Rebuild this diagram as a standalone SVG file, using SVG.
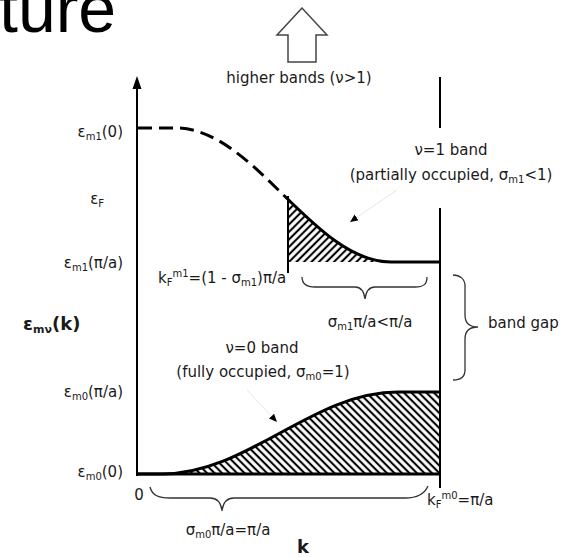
<svg xmlns="http://www.w3.org/2000/svg" width="585" height="557" viewBox="0 0 585 557">
<style>
.t{font-family:"DejaVu Sans",sans-serif;font-size:15px;fill:#1a1a1a}
.b{font-weight:bold;font-size:18px}
.s{font-size:10px}
.ln{stroke:#000;stroke-width:2;fill:none}
.band{stroke:#000;stroke-width:3;fill:none}
.brace{stroke:#333;stroke-width:1.3;fill:none}
.lead{stroke:#e6e6e6;stroke-width:1;fill:none}
</style>
<defs>
<pattern id="hUp" patternUnits="userSpaceOnUse" width="5.3" height="10" patternTransform="rotate(45)"><line x1="2.65" y1="-1" x2="2.65" y2="11" stroke="#000" stroke-width="2.1"/></pattern>
<pattern id="hDn" patternUnits="userSpaceOnUse" width="5.3" height="10" patternTransform="rotate(-45)"><line x1="2.65" y1="-1" x2="2.65" y2="11" stroke="#000" stroke-width="2.1"/></pattern>
<marker id="tri" markerUnits="userSpaceOnUse" markerWidth="9" markerHeight="8" refX="8" refY="3.5" orient="auto"><path d="M0,0 L8,3.5 L0,7 Z" fill="#000"/></marker>
<clipPath id="cUp"><path d="M176,128 C254,128 313,262 391,262 L176,262 Z"/></clipPath>
<clipPath id="cDn"><path d="M162,474 C248,474 312,392 398,392 L440,392 L440,474 Z"/></clipPath>
</defs>

<text x="-1" y="32" style="font-family:'Liberation Sans',Arial,sans-serif;font-size:68px;fill:#000">ture</text>

<g id="axes">
<line class="ln" x1="137" y1="86" x2="137" y2="476"/>
<polygon points="137,76 132.5,89 141.5,89" fill="#000"/>
<line class="ln" x1="440" y1="77" x2="440" y2="128"/>
<line class="ln" x1="440" y1="208" x2="440" y2="488"/>
</g>

<g id="higher-bands">
<polygon points="302,8 277,35 288,35 288,62 316,62 316,35 327,35" fill="#fff" stroke="#444" stroke-width="1.5"/>
<text class="t" x="299" y="83" text-anchor="middle">higher bands (ν&gt;1)</text>
</g>

<g id="band-m1">
<rect x="288" y="150" width="110" height="112" fill="url(#hUp)" clip-path="url(#cUp)"/>
<path class="band" d="M138,128 L176,128 C215,128 249.25,161.5 283.5,195" stroke-dasharray="14,7"/>
<path class="band" d="M283.5,195 C317.75,228.5 352,262 391,262 L440,262"/>
<line class="ln" x1="288" y1="196" x2="288" y2="273"/>
</g>

<g id="band-m0">
<rect x="162" y="390" width="278" height="84" fill="url(#hDn)" clip-path="url(#cDn)"/>
<path class="band" d="M137,474 L162,474 C248,474 312,392 398,392 L440,392"/>
<line class="band" x1="137" y1="474" x2="440" y2="474"/>
</g>

<g id="connectors">
<line class="lead" x1="397" y1="190" x2="350" y2="222" marker-end="url(#tri)"/>
<line class="lead" x1="247" y1="390" x2="277" y2="422" marker-end="url(#tri)"/>
<path class="brace" d="M302,277 C302,284 306,287 315,287 L355,287 C361,287 364,291 365,299 C366,291 369,287 375,287 L415,287 C424,287 427,284 427,277"/>
<path class="brace" d="M453,275 C460,275 465,279 465,286 L465,315 C465,322 469,327 478,327 C469,327 465,332 465,339 L465,370 C465,377 460,380 453,380"/>
<path class="brace" d="M150,487 C152,495 158,498 170,498 L210,498 C217,498 221,502 222,511 C223,502 227,498 234,498 L405,498 C418,498 425,493 428,486"/>
</g>

<g id="labels-left">
<text class="t" x="123" y="137" text-anchor="end">ε<tspan class="s" dy="3">m1</tspan><tspan dy="-3">(0)</tspan></text>
<text class="t" x="104" y="204" text-anchor="end">ε<tspan class="s" dy="3">F</tspan></text>
<text class="t" x="123" y="268" text-anchor="end">ε<tspan class="s" dy="3">m1</tspan><tspan dy="-3">(π/a)</tspan></text>
<text class="t b" x="23" y="330">ε<tspan style="font-size:11px" dy="3">mν</tspan><tspan dy="-3">(k)</tspan></text>
<text class="t" x="123" y="397" text-anchor="end">ε<tspan class="s" dy="3">m0</tspan><tspan dy="-3">(π/a)</tspan></text>
<text class="t" x="123" y="477" text-anchor="end">ε<tspan class="s" dy="3">m0</tspan><tspan dy="-3">(0)</tspan></text>
</g>

<g id="labels-band1">
<text class="t" x="451" y="155" text-anchor="middle">ν=1 band</text>
<text class="t" x="451" y="180" text-anchor="middle">(partially occupied, σ<tspan class="s" dy="3">m1</tspan><tspan dy="-3">&lt;1)</tspan></text>
<text class="t" x="158" y="283">k<tspan class="s" dy="3">F</tspan><tspan class="s" dy="-9">m1</tspan><tspan dy="6">=(1 - σ</tspan><tspan class="s" dy="3">m1</tspan><tspan dy="-3">)π/a</tspan></text>
<text class="t" x="370" y="327" text-anchor="middle">σ<tspan class="s" dy="3">m1</tspan><tspan dy="-3">π/a&lt;π/a</tspan></text>
<text class="t" x="488" y="328">band gap</text>
</g>

<g id="labels-band0">
<text class="t" x="262" y="353" text-anchor="middle">ν=0 band</text>
<text class="t" x="263" y="377" text-anchor="middle">(fully occupied, σ<tspan class="s" dy="3">m0</tspan><tspan dy="-3">=1)</tspan></text>
<text class="t" x="139" y="500" text-anchor="middle">0</text>
<text class="t" x="228" y="535" text-anchor="middle">σ<tspan class="s" dy="3">m0</tspan><tspan dy="-3">π/a=π/a</tspan></text>
<text class="t" x="427" y="505">k<tspan class="s" dy="3">F</tspan><tspan class="s" dy="-9">m0</tspan><tspan dy="6">=π/a</tspan></text>
<text class="t b" x="303" y="553" text-anchor="middle">k</text>
</g>
</svg>
